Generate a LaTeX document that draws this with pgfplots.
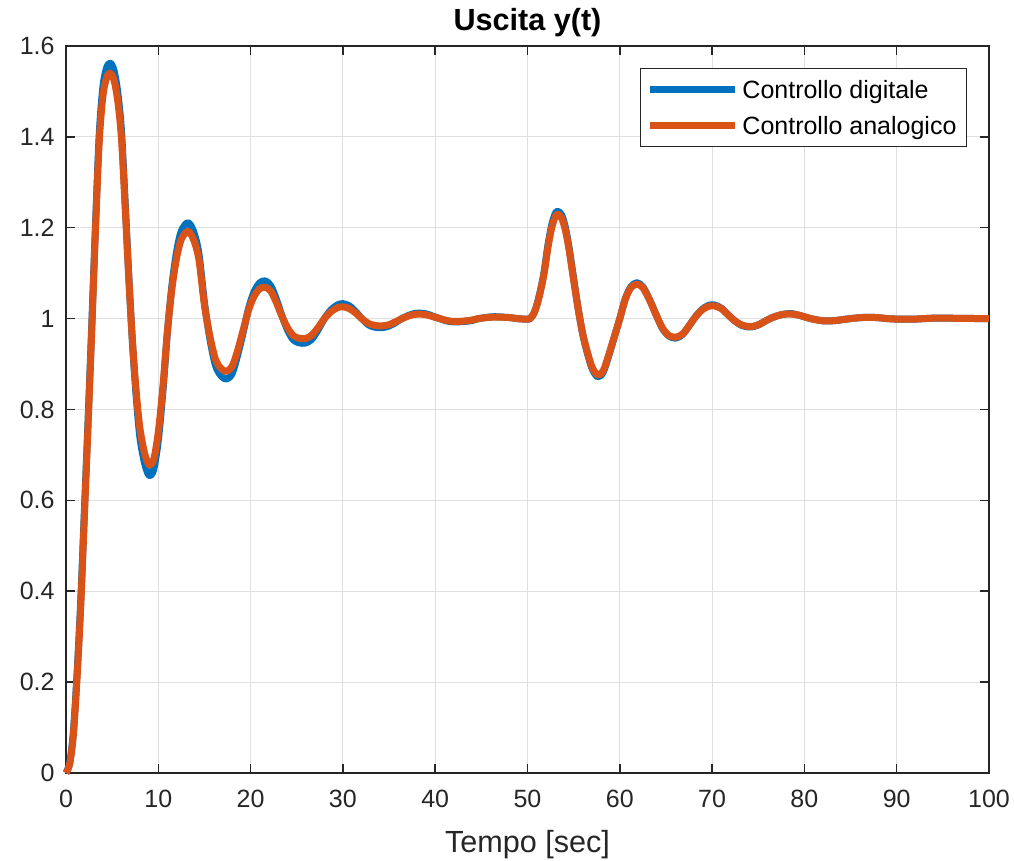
\documentclass[border=0pt]{standalone}
\usepackage{pgfplots}
\pgfplotsset{compat=1.18}
\usepackage{pgfplotstable}
\usepackage{fontspec}
\setmainfont{Liberation Sans}
\definecolor{mblue}{HTML}{0072BD}
\definecolor{morange}{HTML}{D95319}
\definecolor{axcol}{HTML}{262626}
\definecolor{gridcol}{HTML}{DFDFDF}

\pgfplotstableread{
t y
0 0
0.4 0.022
0.8 0.09
1.2 0.22
1.6 0.38
2.0 0.58
2.4 0.78
2.8 0.99
3.2 1.208
3.6 1.405
4.0 1.51
4.4 1.552
4.8 1.562
5.2 1.546
5.6 1.499
6.0 1.416
6.4 1.26
6.8 1.096
7.2 0.947
7.6 0.83
8.0 0.74
8.5 0.683
9.0 0.655
9.5 0.668
10.0 0.732
10.5 0.84
11.0 0.973
11.5 1.077
12.0 1.149
12.5 1.193
13.2 1.211
13.8 1.193
14.4 1.143
15.0 1.035
15.6 0.954
16.2 0.897
16.8 0.874
17.4 0.867
18.0 0.879
18.6 0.92
19.2 0.97
19.8 1.024
20.4 1.06
21.0 1.079
21.6 1.083
22.2 1.072
22.8 1.042
23.4 1.006
24.0 0.975
24.6 0.954
25.2 0.947
25.9 0.946
26.6 0.954
27.3 0.975
28.0 1.0
28.7 1.019
29.4 1.03
30.0 1.033
30.7 1.028
31.4 1.015
32.1 0.999
32.8 0.986
33.5 0.981
34.2 0.980
34.9 0.983
35.6 0.990
36.3 0.999
37.0 1.006
37.7 1.011
38.4 1.012
39.1 1.010
39.8 1.005
40.5 1.000
41.2 0.995
41.9 0.993
42.6 0.993
43.3 0.994
44.0 0.996
44.7 1.000
45.4 1.002
46.1 1.004
46.8 1.004
47.5 1.003
48.2 1.002
48.9 1.000
49.6 0.999
50.0 0.999
50.2 0.999
50.6 1.008
51.0 1.029
51.4 1.062
51.8 1.103
52.2 1.16
52.6 1.204
53.0 1.231
53.3 1.236
53.7 1.228
54.1 1.201
54.5 1.157
55.0 1.088
55.5 1.021
56.0 0.964
56.5 0.923
57.0 0.890
57.6 0.872
58.2 0.882
58.8 0.918
59.4 0.959
60.0 1.0
60.6 1.044
61.2 1.070
61.85 1.079
62.5 1.07
63.2 1.043
63.9 1.01
64.6 0.979
65.3 0.962
66.05 0.957
66.8 0.965
67.5 0.984
68.2 1.004
68.9 1.02
69.6 1.029
70.25 1.030
71.0 1.023
71.7 1.009
72.4 0.996
73.1 0.986
73.8 0.982
74.4 0.982
75.1 0.987
75.8 0.995
76.5 1.002
77.2 1.007
77.9 1.010
78.6 1.011
79.3 1.008
80.0 1.004
80.7 1.000
81.4 0.997
82.1 0.995
82.8 0.995
83.5 0.996
84.2 0.998
85.0 1.000
86.0 1.002
87.0 1.003
88.0 1.002
89.0 1.000
90.0 0.999
91.0 0.999
92.0 0.999
93.0 1.000
94.0 1.001
95.5 1.001
97.0 1.0005
100 1.0
}\digital

\pgfplotstableread{
t y
0 0
0.4 0.02
0.8 0.085
1.2 0.21
1.6 0.37
2.0 0.57
2.4 0.77
2.8 0.98
3.2 1.20
3.6 1.39
4.0 1.49
4.4 1.53
4.8 1.540
5.2 1.525
5.6 1.48
6.0 1.40
6.4 1.25
6.8 1.09
7.2 0.95
7.6 0.84
8.0 0.76
8.5 0.705
9.0 0.678
9.5 0.69
10.0 0.75
10.5 0.85
11.0 0.975
11.5 1.07
12.0 1.135
12.5 1.175
13.2 1.192
13.8 1.175
14.4 1.13
15.0 1.03
15.6 0.96
16.2 0.91
16.8 0.89
17.4 0.884
18.0 0.895
18.6 0.93
19.2 0.975
19.8 1.02
20.4 1.05
21.0 1.066
21.6 1.069
22.2 1.06
22.8 1.035
23.4 1.005
24.0 0.98
24.6 0.963
25.2 0.957
25.9 0.956
26.6 0.963
27.3 0.98
28.0 1.0
28.7 1.015
29.4 1.024
30.0 1.026
30.7 1.022
31.4 1.012
32.1 0.999
32.8 0.989
33.5 0.985
34.2 0.984
34.9 0.986
35.6 0.992
36.3 0.999
37.0 1.005
37.7 1.009
38.4 1.010
39.1 1.008
39.8 1.004
40.5 1.000
41.2 0.996
41.9 0.994
42.6 0.994
43.3 0.995
44.0 0.997
44.7 1.000
45.4 1.002
46.1 1.003
46.8 1.003
47.5 1.003
48.2 1.002
48.9 1.000
49.6 0.999
50.0 0.999
50.2 0.999
50.6 1.008
51.0 1.028
51.4 1.06
51.8 1.10
52.2 1.155
52.6 1.198
53.0 1.224
53.3 1.230
53.7 1.221
54.1 1.195
54.5 1.152
55.0 1.085
55.5 1.02
56.0 0.965
56.5 0.925
57.0 0.893
57.6 0.876
58.2 0.885
58.8 0.92
59.4 0.96
60.0 1.0
60.6 1.043
61.2 1.068
61.85 1.076
62.5 1.068
63.2 1.042
63.9 1.01
64.6 0.98
65.3 0.963
66.05 0.959
66.8 0.966
67.5 0.984
68.2 1.004
68.9 1.019
69.6 1.027
70.25 1.028
71.0 1.022
71.7 1.009
72.4 0.996
73.1 0.987
73.8 0.983
74.4 0.983
75.1 0.987
75.8 0.995
76.5 1.002
77.2 1.007
77.9 1.010
78.6 1.010
79.3 1.008
80.0 1.004
80.7 1.000
81.4 0.997
82.1 0.995
82.8 0.995
83.5 0.996
84.2 0.998
85.0 1.000
86.0 1.002
87.0 1.003
88.0 1.002
89.0 1.000
90.0 0.999
91.0 0.999
92.0 0.999
93.0 1.000
94.0 1.001
95.5 1.001
97.0 1.0005
100 1.0
}\analog

\begin{document}
\begin{tikzpicture}
\begin{axis}[
  scale only axis, width=461.5pt, height=363.5pt,
  xmin=0, xmax=100, ymin=0, ymax=1.6,
  xtick={0,10,20,30,40,50,60,70,80,90,100},
  ytick={0,0.2,0.4,0.6,0.8,1,1.2,1.4,1.6},
  tick align=inside, major tick length=4.5pt,
  grid=major, major grid style={gridcol, line width=0.5pt},
  axis line style={axcol, line width=0.75pt},
  every tick/.style={axcol, line width=0.75pt},
  tick label style={font=\fontsize{12.5}{15}\selectfont, text=axcol},
  /pgf/number format/assume math mode=true,
  xticklabel style={inner sep=0pt, anchor=north, yshift=-8.5pt},
  yticklabel style={inner sep=0pt, anchor=east, xshift=-5.5pt},
  title={Uscita y(t)},
  every axis title shift=0pt,
  title style={font=\bfseries\fontsize{15.3}{18}\selectfont, inner sep=0pt, anchor=south, at={(0.5,1)}, yshift=4.5pt},
  xlabel={Tempo [sec]},
  xlabel style={font=\fontsize{15.3}{18}\selectfont, text=axcol, inner sep=0pt, anchor=north, at={(0.5,0)}, yshift=-28.5pt},
  clip=false,
  legend cell align=left,
  legend image code/.code={\draw[#1] (0pt,0pt) -- (42.5pt,0pt);},
  legend style={at={(1,1)}, anchor=north east, xshift=-11pt, yshift=-11pt,
    draw=axcol, line width=0.5pt, fill=white,
    font=\fontsize{12.5}{15}\selectfont,
    inner xsep=3pt, inner ysep=1.5pt, row sep=0pt,
    nodes={inner sep=2pt, text height=11.5pt, text depth=2.5pt}},
]
\addplot[mblue, line width=3.5pt, line join=round, smooth, no markers] table[x=t,y=y] {\digital};
\addlegendentry{Controllo digitale}
\addplot[morange, line width=3.5pt, line join=round, smooth, no markers] table[x=t,y=y] {\analog};
\addlegendentry{Controllo analogico}
\end{axis}
\pgfresetboundingbox
\path[use as bounding box] (current axis.south west) ++(-33pt,-44pt) rectangle ++(507pt,430.5pt);
\end{tikzpicture}
\end{document}
